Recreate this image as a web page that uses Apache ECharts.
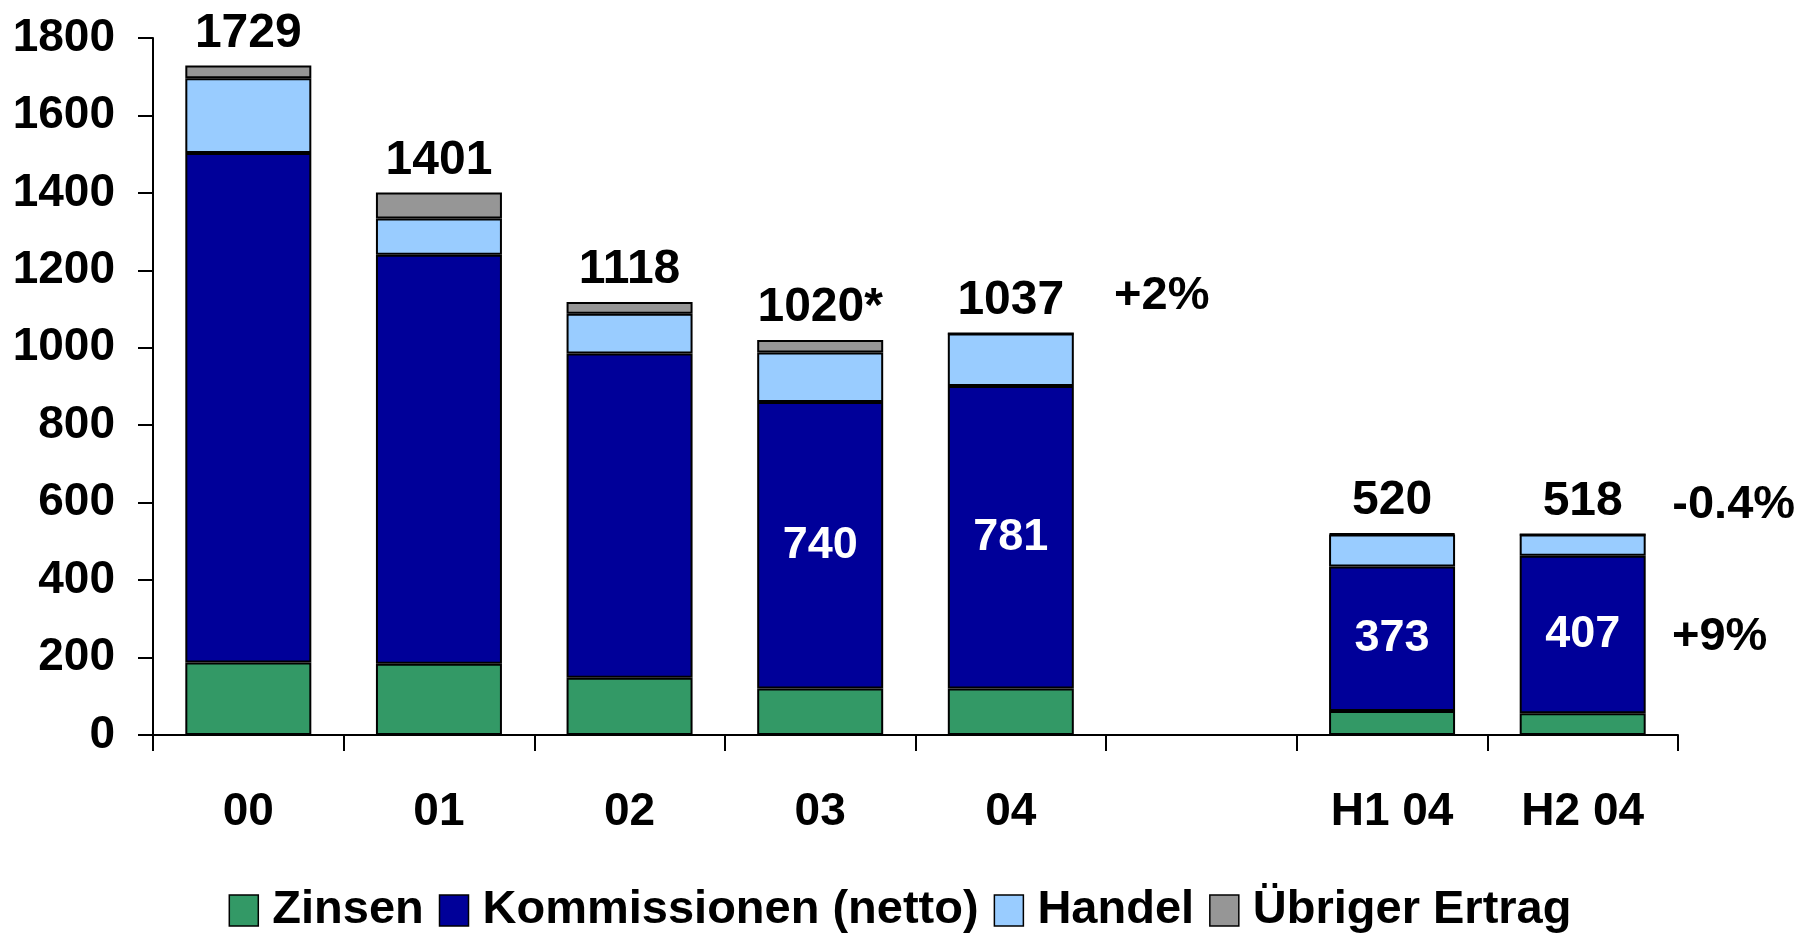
<!DOCTYPE html>
<html>
<head>
<meta charset="utf-8">
<script src="https://cdn.jsdelivr.net/npm/echarts@6/dist/echarts.min.js"></script>
<style>html,body{margin:0;padding:0;background:#fff}#c{width:1800px;height:933px}</style>
</head>
<body>
<div id="c"></div>
<script>
const categories = ['00', '01', '02', '03', '04', '', 'H1 04', 'H2 04'];
const zinsen = [187, 184, 148, 120, 120, null, 62, 56];
const kommissionen = [1316, 1056, 837, 740, 781, null, 373, 407];
const handel = [193, 94, 103, 128, 136, null, 83, 55];
const uebrig = [33, 67, 30, 32, 0, null, 2, 0];
const totalLabels = ['1729', '1401', '1118', '1020*', '1037', '', '520', '518'];
const innerLabels = ['', '', '', '740', '781', '', '373', '407'];
const annotations = [
  { cat: '04', value: 1133, text: '+2%', dx: 151 },
  { cat: 'H2 04', value: 593, text: '-0.4%', dx: 151 },
  { cat: 'H2 04', value: 252, text: '+9%', dx: 137 }
];
const yTicks = [0, 1800, 200];

const FONT = '"Liberation Sans", Arial, sans-serif';
const border = { borderColor: '#000', borderWidth: 2 };
const chart = echarts.init(document.getElementById('c'));
chart.setOption({
  animation: false,
  backgroundColor: '#fff',
  textStyle: { fontFamily: FONT },
  grid: { left: 153, right: 122, top: 38, bottom: 198 },
  legend: {
    data: ['Zinsen', 'Kommissionen (netto)', 'Handel', 'Übriger Ertrag'],
    bottom: -6,
    left: 'center',
    itemWidth: 29, itemHeight: 31, itemGap: 15,
    icon: 'rect',
    itemStyle: { borderColor: '#000', borderWidth: 1.5 },
    textStyle: { fontSize: 47, fontWeight: 'bold', color: '#000', fontFamily: FONT, padding: [0, 0, 0, 9] }
  },
  xAxis: {
    type: 'category',
    data: categories,
    axisLine: { lineStyle: { color: '#000', width: 2 } },
    axisTick: { show: true, length: 16, interval: 0, lineStyle: { color: '#000', width: 2 } },
    axisLabel: { fontSize: 46, fontWeight: 'bold', color: '#000', margin: 54, interval: 0 },
    splitLine: { show: false }
  },
  yAxis: {
    type: 'value',
    min: yTicks[0], max: yTicks[1], interval: yTicks[2],
    axisLine: { show: true, lineStyle: { color: '#000', width: 2 } },
    axisTick: { show: true, length: 15, lineStyle: { color: '#000', width: 2 } },
    axisLabel: { fontSize: 46, fontWeight: 'bold', color: '#000', margin: 38, formatter: v => String(v) },
    splitLine: { show: false }
  },
  series: [
    { name: 'Zinsen', type: 'bar', stack: 's', barWidth: 126, data: zinsen,
      itemStyle: Object.assign({ color: '#339966' }, border) },
    { name: 'Kommissionen (netto)', type: 'bar', stack: 's', data: kommissionen,
      itemStyle: Object.assign({ color: '#000099' }, border),
      label: { show: true, position: 'inside', color: '#fff', fontSize: 45, fontWeight: 'bold',
        formatter: p => innerLabels[p.dataIndex] } },
    { name: 'Handel', type: 'bar', stack: 's', data: handel,
      itemStyle: Object.assign({ color: '#99CCFF' }, border) },
    { name: 'Übriger Ertrag', type: 'bar', stack: 's', data: uebrig,
      itemStyle: Object.assign({ color: '#969696' }, border),
      label: { show: true, position: 'top', distance: 8, color: '#000', fontSize: 48, fontWeight: 'bold',
        formatter: p => totalLabels[p.dataIndex] } },
    { name: 'annot', type: 'scatter', symbolSize: 0, silent: true,
      itemStyle: { opacity: 1, color: '#000' },
      data: annotations.map(a => ({ value: [a.cat, a.value],
        label: { offset: [a.dx, 0], formatter: a.text, color: '#000' } })),
      label: { show: true, position: 'inside', color: '#000', fontSize: 47, fontWeight: 'bold' } }
  ]
});
</script>
</body>
</html>
